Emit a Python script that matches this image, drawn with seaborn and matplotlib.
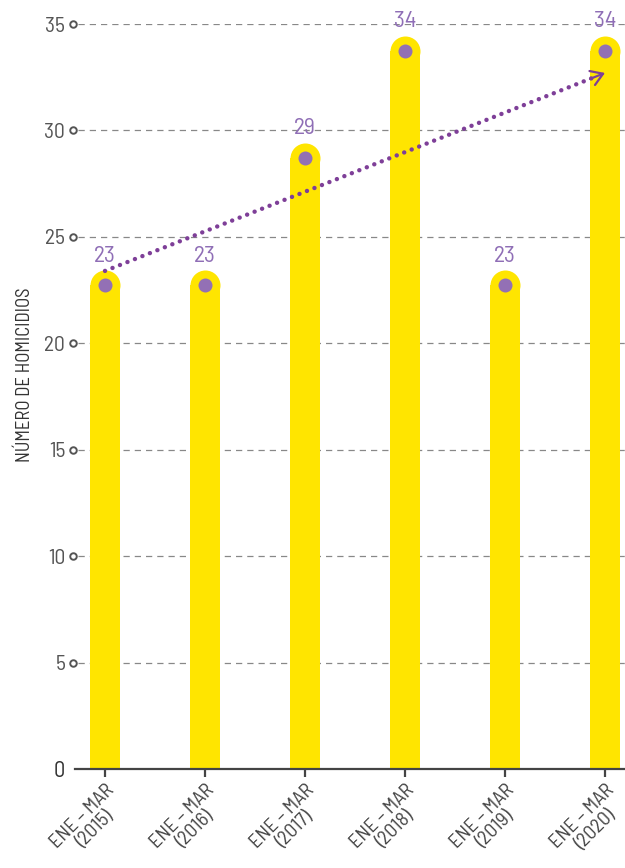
import matplotlib
matplotlib.use("Agg")
import matplotlib.pyplot as plt
import matplotlib.transforms as mtransforms
import seaborn as sns
import numpy as np
import pandas as pd

# ---- data ----
categories = ["ENE – MAR\n(2015)", "ENE – MAR\n(2016)", "ENE – MAR\n(2017)",
              "ENE – MAR\n(2018)", "ENE – MAR\n(2019)", "ENE – MAR\n(2020)"]
values = [23, 23, 29, 34, 23, 34]
value_labels = ["23", "23", "29", "34", "23", "34"]
trend_start_end = [23.4, 32.7]
y_ticks = [0, 5, 10, 15, 20, 25, 30, 35]
y_label = "NÚMERO DE HOMICIDIOS"

YELLOW = "#FFE500"
DOT = "#9370B5"
LABEL = "#8F6EB6"
TREND = "#7E3F98"
GREY = "#555555"

sns.set_theme(style="white")
plt.rcParams["font.family"] = ["Barlow Semi Condensed", "DejaVu Sans"]

fig = plt.figure(figsize=(6.25, 8.68), dpi=100)
ax = fig.add_axes([75 / 625, 1 - 769 / 868, 550 / 625, (769 - 24) / 868])

off = 0.28
df = pd.DataFrame({"cat": categories, "val": np.array(values) - off})
sns.barplot(data=df, x="cat", y="val", color=YELLOW, width=0.3, saturation=1,
            ax=ax, zorder=2, linewidth=0)
xs = np.arange(len(categories))
cap_d = 30 * 72 / 100
ax.scatter(xs, df["val"], s=cap_d ** 2, color=YELLOW, zorder=2, linewidths=0)
dot_d = 14 * 72 / 100
ax.scatter(xs, df["val"], s=dot_d ** 2, color=DOT, zorder=4, linewidths=0)

for x, v, lab in zip(xs, values, value_labels):
    ax.text(x, v + 1.1, lab, ha="center", va="center", fontsize=17,
            color=LABEL, zorder=5, clip_on=False)

tx = [xs[0], xs[-1] - 0.12]
slope = (trend_start_end[1] - trend_start_end[0]) / (xs[-1] - xs[0])
ty = [trend_start_end[0], trend_start_end[0] + slope * (tx[1] - xs[0])]
ax.plot(tx, ty, color=TREND, lw=3.2, linestyle=(0, (0.01, 1.8)),
        dash_capstyle="round", zorder=3)
ax.annotate("", xy=(xs[-1], trend_start_end[1]),
            xytext=(xs[-1] - 0.15, trend_start_end[1] - slope * 0.15),
            arrowprops=dict(arrowstyle="->,head_length=0.7,head_width=0.45",
                            color=TREND, lw=1.6, shrinkA=0, shrinkB=0),
            zorder=5)

ax.set_xlim(-0.3, 5.2)
ax.set_ylim(0, 35)
ax.set_yticks(y_ticks)
ax.set_yticklabels([str(t) for t in y_ticks])
ax.tick_params(axis="y", length=0, pad=7, labelsize=15.5, labelcolor=GREY)
for lbl in ax.get_yticklabels():
    if lbl.get_text() == "0":
        lbl.set_color("#333333")
        lbl.set_fontsize(16)

for t in y_ticks[1:]:
    ax.axhline(t, xmin=3 / 550, xmax=1, color="#888888", lw=0.9,
               linestyle=(0, (5, 4)), zorder=1)
trans = mtransforms.blended_transform_factory(ax.transAxes, ax.transData)
ax.scatter([-2 / 550] * (len(y_ticks) - 1), y_ticks[1:], transform=trans,
           s=22, facecolor="white", edgecolor=GREY, linewidths=1.4,
           zorder=6, clip_on=False)

ax.set_xticks(xs)
ax.set_xticklabels(categories, rotation=45, ha="right", va="top",
                   rotation_mode="anchor", multialignment="center",
                   fontsize=14.5, color="#444444", linespacing=1.0)
ax.tick_params(axis="x", length=6, width=1.6, color="#444444", pad=3,
               direction="out", bottom=True)
ax.set_xlabel("")
ax.set_ylabel("")
for s in ["left", "right", "top"]:
    ax.spines[s].set_visible(False)
ax.spines["bottom"].set_color("#444444")
ax.spines["bottom"].set_linewidth(1.6)
ax.spines["bottom"].set_zorder(6)

fig.text(25 / 625, 1 - 375 / 868, y_label, rotation=90, ha="center",
         va="center", fontsize=13.5, color="#333333")

fig.savefig("out.png", dpi=100)
